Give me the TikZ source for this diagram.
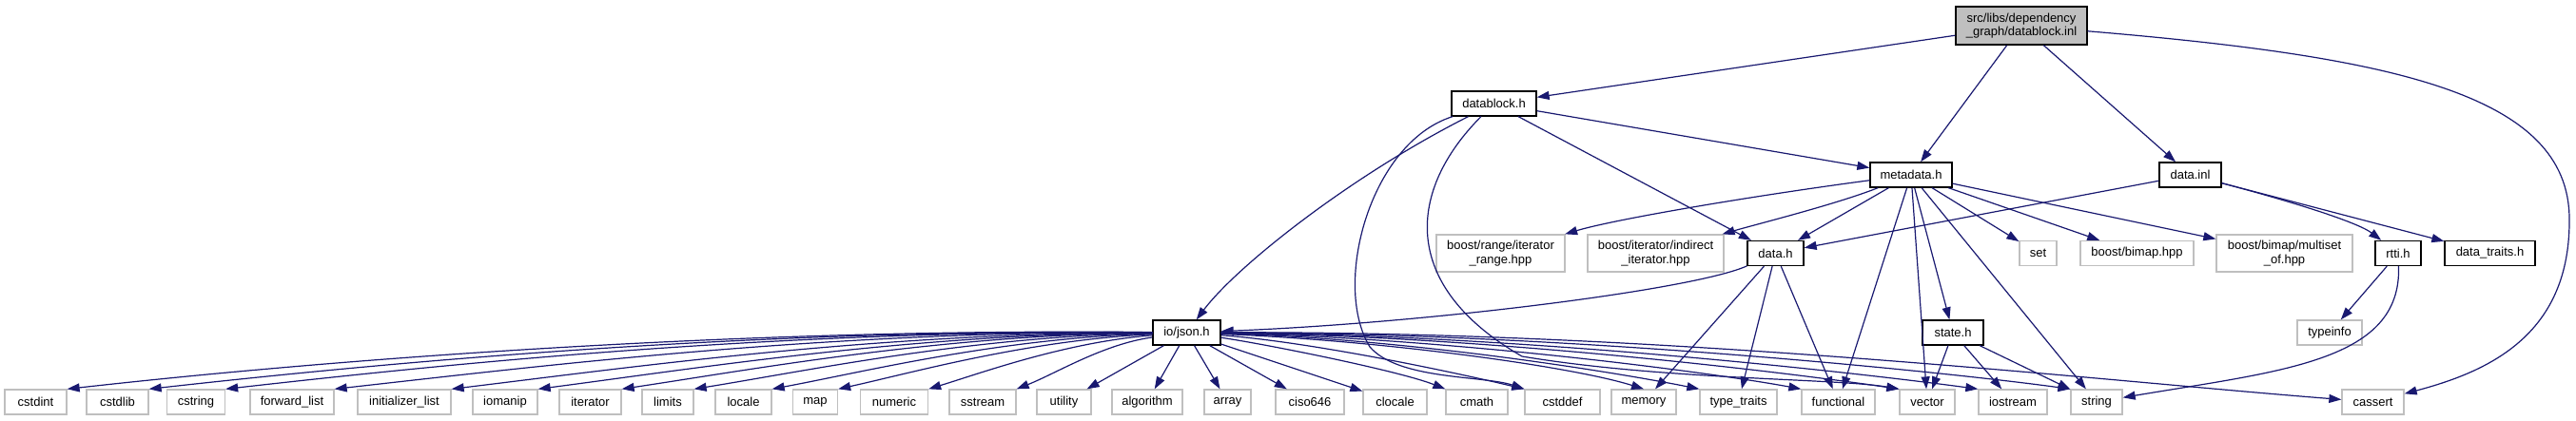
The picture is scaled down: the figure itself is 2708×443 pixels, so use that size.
\documentclass[tikz,border=0pt]{standalone}
\usepackage{fontspec}
\setmainfont{Liberation Sans}
\usetikzlibrary{arrows.meta}
\definecolor{edgecol}{HTML}{191970}
\definecolor{boxgray}{HTML}{BFBFBF}
\begin{document}
\begin{tikzpicture}[x=1pt,y=-1pt,
  base/.style={rectangle, inner sep=0pt, font=\fontsize{13}{14.5}\selectfont, align=center, line width=1.3pt, minimum height=26pt},
  proj/.style={base, draw=black, fill=white},
  ext/.style={base, draw=boxgray, fill=white},
  rootbox/.style={base, draw=black, fill=boxgray},
  e/.style={draw=edgecol, line width=1.2pt, -{Triangle[length=13pt,width=9pt]}}]
\useasboundingbox (0,0) rectangle (2708,443);
% top levels
\node[rootbox, minimum width=138pt, minimum height=40pt] (root) at (2125,27) {src/libs/dependency\\\_graph/datablock.inl};
\node[proj, minimum width=89pt] (datablock) at (1570.5,109) {datablock.h};
\node[proj, minimum width=86pt] (metadata) at (2009,184) {metadata.h};
\node[proj, minimum width=65pt] (datainl) at (2302.5,184) {data.inl};
% third row
\node[ext, minimum width=135pt, minimum height=39pt] (brange) at (1577.5,266.5) {boost/range/iterator\\\_range.hpp};
\node[ext, minimum width=143pt, minimum height=39pt] (biter) at (1740.5,266.5) {boost/iterator/indirect\\\_iterator.hpp};
\node[proj, minimum width=59pt] (datah) at (1866.5,266.5) {data.h};
\node[ext, minimum width=39pt] (set) at (2142.5,266.5) {set};
\node[ext, minimum width=119pt] (bimap) at (2246.5,266.5) {boost/bimap.hpp};
\node[ext, minimum width=143pt, minimum height=39pt] (multiset) at (2401.5,266.5) {boost/bimap/multiset\\\_of.hpp};
\node[proj, minimum width=48pt] (rtti) at (2521,266.5) {rtti.h};
\node[proj, minimum width=95pt] (traits) at (2617.5,266.5) {data\_traits.h};
% fourth row
\node[proj, minimum width=71pt] (json) at (1247.5,350) {io/json.h};
\node[proj, minimum width=64pt] (state) at (2053,350) {state.h};
\node[ext, minimum width=68pt] (typeinfo) at (2449,350) {typeinfo};
% bottom row
\node[ext, minimum width=65pt] (cstdint) at (37.5,423) {cstdint};
\node[ext, minimum width=65pt] (cstdlib) at (123.5,423) {cstdlib};
\node[ext, minimum width=61pt] (cstring) at (206,423) {cstring};
\node[ext, minimum width=88pt] (fwdlist) at (307,423) {forward\_list};
\node[ext, minimum width=98pt] (initlist) at (425,423) {initializer\_list};
\node[ext, minimum width=68pt] (iomanip) at (531,423) {iomanip};
\node[ext, minimum width=65pt] (iterator) at (620.5,423) {iterator};
\node[ext, minimum width=54pt] (limits) at (702,423) {limits};
\node[ext, minimum width=59pt] (locale) at (781.5,423) {locale};
\node[ext, minimum width=47pt] (map) at (857,423) {map};
\node[ext, minimum width=71pt] (numeric) at (940,423) {numeric};
\node[ext, minimum width=70pt] (sstream) at (1033,423) {sstream};
\node[ext, minimum width=57pt] (utility) at (1118.5,423) {utility};
\node[ext, minimum width=74pt] (algorithm) at (1206,423) {algorithm};
\node[ext, minimum width=49pt] (array) at (1290.5,423) {array};
\node[ext, minimum width=72pt] (ciso) at (1377,423) {ciso646};
\node[ext, minimum width=67pt] (clocale) at (1466.5,423) {clocale};
\node[ext, minimum width=65pt] (cmath) at (1552.5,423) {cmath};
\node[ext, minimum width=79pt] (cstddef) at (1642.5,423) {cstddef};
\node[ext, minimum width=68pt] (memory) at (1728,423) {memory};
\node[ext, minimum width=81pt] (typetraits) at (1827.5,423) {type\_traits};
\node[ext, minimum width=77pt] (functional) at (1932.5,423) {functional};
\node[ext, minimum width=58pt] (vector) at (2026,423) {vector};
\node[ext, minimum width=72pt] (iostream) at (2116,423) {iostream};
\node[ext, minimum width=54pt] (string) at (2204,423) {string};
\node[ext, minimum width=65pt] (cassert) at (2494.5,423) {cassert};
% root edges
\draw[e] (root) -- (datablock);
\draw[e] (root) -- (metadata);
\draw[e] (root) -- (datainl);
\draw[e] (root) .. controls (2520,60) and (2700,100) .. (2701,230) .. controls (2702,350) and (2620,390) .. (cassert);
% datablock edges
\draw[e] (datablock) -- (metadata);
\draw[e] (datablock) -- (datah);
\draw[e] (datablock) .. controls (1420,185) and (1300,280) .. (json);
\draw[e] (datablock) .. controls (1440,150) and (1400,300) .. (1440,365) .. controls (1470,400) and (1560,395) .. (cstddef.north west);
\draw[e] (datablock) .. controls (1480,200) and (1470,300) .. (1600,375) .. controls (1750,400) and (1930,398) .. (vector.north west);
% metadata edges
\draw[e] (metadata) .. controls (1850,205) and (1700,230) .. (brange);
\draw[e] (metadata) .. controls (1930,215) and (1850,235) .. (biter);
\draw[e] (metadata) -- (datah);
\draw[e] (metadata) -- (set);
\draw[e] (metadata) -- (bimap);
\draw[e] (metadata) -- (multiset);
\draw[e] (metadata) -- (state);
\draw[e] (metadata) -- (functional);
\draw[e] (metadata) -- (vector);
\draw[e] (metadata) -- (string);
% data.inl edges
\draw[e] (datainl) -- (datah);
\draw[e] (datainl) .. controls (2420,215) and (2480,235) .. (rtti);
\draw[e] (datainl) -- (traits);
% rtti edges
\draw[e] (rtti) -- (typeinfo);
\draw[e] (rtti) .. controls (2525,380) and (2400,390) .. (string);
% state edges
\draw[e] (state) -- (vector);
\draw[e] (state) -- (iostream);
\draw[e] (state) -- (string);
% data.h edges
\draw[e] (datah) .. controls (1780,305) and (1500,340) .. (json);
\draw[e] (datah) -- (memory);
\draw[e] (datah) -- (typetraits);
\draw[e] (datah) -- (functional);
% json edges, left
\draw[e] (json) .. controls (780,345) and (350,378) .. (cstdint.north east);
\draw[e] (json) .. controls (790,346) and (420,380) .. (cstdlib.north east);
\draw[e] (json) .. controls (820,347) and (480,382) .. (cstring.north east);
\draw[e] (json) .. controls (870,348) and (570,385) .. (fwdlist.north east);
\draw[e] (json) .. controls (920,350) and (660,387) .. (initlist.north east);
\draw[e] (json) .. controls (960,351) and (730,388) .. (iomanip.north east);
\draw[e] (json) .. controls (990,352) and (790,389) .. (iterator.north east);
\draw[e] (json) .. controls (1020,354) and (850,390) .. (limits.north east);
\draw[e] (json) .. controls (1050,356) and (910,391) .. (locale.north east);
\draw[e] (json) .. controls (1080,358) and (960,392) .. (map.north east);
\draw[e] (json) .. controls (1120,360) and (1030,393) .. (numeric.north east);
\draw[e] (json) .. controls (1160,362) and (1110,393) .. (sstream.north east);
\draw[e] (json) -- (utility);
\draw[e] (json) -- (algorithm);
\draw[e] (json) -- (array);
\draw[e] (json) -- (ciso);
\draw[e] (json) -- (clocale);
% json edges, right
\draw[e] (json) .. controls (1330,362) and (1470,390) .. (cmath.north west);
\draw[e] (json) .. controls (1380,360) and (1530,392) .. (cstddef.north west);
\draw[e] (json) .. controls (1450,358) and (1650,385) .. (memory.north);
\draw[e] (json) .. controls (1480,356) and (1700,392) .. (typetraits.north west);
\draw[e] (json) .. controls (1520,355) and (1800,392) .. (functional.north west);
\draw[e] (json) .. controls (1560,353) and (1880,392) .. (vector.north west);
\draw[e] (json) .. controls (1600,352) and (1950,392) .. (iostream.north west);
\draw[e] (json) .. controls (1650,350) and (2050,392) .. (string.north west);
\draw[e] (json) .. controls (1750,348) and (2200,400) .. (cassert);
\end{tikzpicture}
\end{document}
